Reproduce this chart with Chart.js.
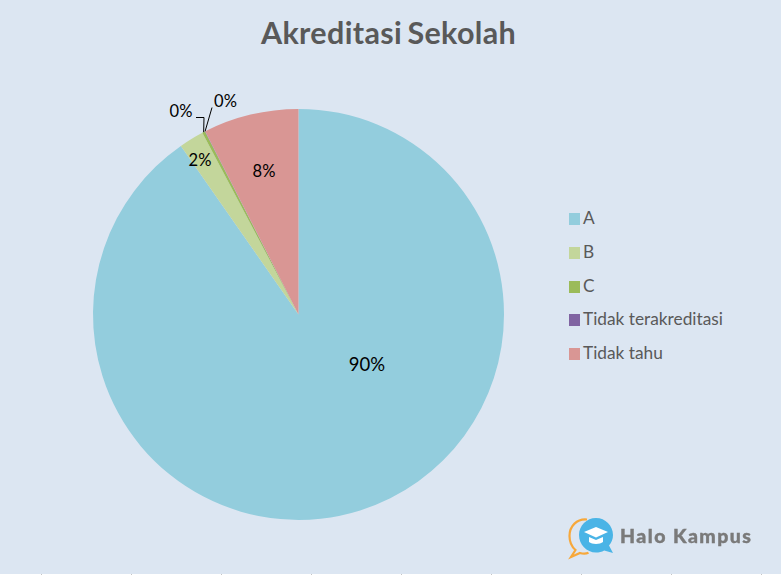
<!DOCTYPE html>
<html><head><meta charset="utf-8">
<style>
html,body{margin:0;padding:0;background:#dce6f2;overflow:hidden;width:781px;height:575px}
#wrap{position:relative;width:781px;height:575px}
canvas{display:block}
#logo{position:absolute;left:565px;top:514px;width:50px;height:48px}
#brand{position:absolute;left:620px;top:523px;font:900 19.5px Lato,sans-serif;color:#7a7a7a;letter-spacing:1.45px;-webkit-text-stroke:.4px #7a7a7a;white-space:nowrap;line-height:26px}
#edge{position:absolute;left:0;top:574px;width:781px;height:1px;background:repeating-linear-gradient(90deg,#fff 0,#fff 41px,#c4c4c4 41px,#c4c4c4 42px,#fff 42px,#fff 90px)}
</style></head><body>
<div id="wrap">
<canvas id="c" width="781" height="575"></canvas>
<svg id="logo" viewBox="0 0 50 48">
<path d="M22 5.500C12 4.500 4.500 12 4.500 22c0 6.500 2.500 11 6 14L6 43l9-4c2.500 .8 6 .9 8.500-.2" fill="none" stroke="#f7a83b" stroke-width="2.200"/>
<path d="M31 4C21.600 4 14 11.600 14 21s7.600 17.500 17 17.500c3 0 5.800-.8 8.200-2.100L48 39l-4-7.500C46.500 28.500 48 25 48 21 48 11.600 40.400 4 31 4z" fill="#4ab4e6"/>
<path d="M19 18 31 13 43 18 31 23.500z" fill="#fff"/>
<path d="M24 23v5c3 2.500 11 2.500 14 0v-5l-7 3z" fill="#fff"/>
</svg>
<div id="brand">Halo Kampus</div>
<div id="edge"></div>
</div>
<script src="https://cdn.jsdelivr.net/npm/chart.js@4"></script>
<script>
const categories = ['A','B','C','Tidak terakreditasi','Tidak tahu'];
const values = [90.3, 1.95, 0.23, 0.02, 7.5];
const percentLabels = ['90%','2%','0%','0%','8%'];
const colours = ['#93cddd','#c3d69b','#9bbb59','#8064a2','#d99694'];
const titleText = 'Akreditasi Sekolah';

// Label anchor points (px) and whether a leader line is drawn from the slice
const labelSpots = [[367,365.500,false],[200,161,false],[181,112,true],[225.500,102,true],[264,172,false]];

const cv = document.getElementById('c');
cv.getContext('2d',{alpha:false});

const paint = {
  id:'paint',
  beforeDraw(chart){
    const x = chart.ctx;
    x.save(); x.fillStyle='#dce6f2'; x.fillRect(0,0,781,575); x.restore();
    chart.titleBlock.left = 0; chart.titleBlock.right = 777;
    x.letterSpacing = '0.35px';
    x.wordSpacing = '-2.5px';
  },
  beforeDatasetsDraw(chart){ chart.ctx.letterSpacing = '0px'; chart.ctx.wordSpacing = '0px'; },
  afterDatasetsDraw(chart){
    const x = chart.ctx, arcs = chart.getDatasetMeta(0).data;
    x.save();
    x.fillStyle='#000'; x.textAlign='center'; x.textBaseline='middle';
    labelSpots.forEach((s,i)=>{
      if(s[2]){
        const a = arcs[i], mid=(a.startAngle+a.endAngle)/2;
        const px=a.x+Math.cos(mid)*a.outerRadius, py=a.y+Math.sin(mid)*a.outerRadius;
        x.beginPath(); x.strokeStyle='#000'; x.lineWidth=1;
        if(i===2){ x.moveTo(px,py); x.lineTo(204,117.500); x.lineTo(196,117.500); }
        else { x.moveTo(px,py); x.lineTo(212,107.500); }
        x.stroke();
      }
    });
    labelSpots.forEach((s,i)=>{ x.font=(i===0?'18.500px':'16.500px')+' Lato, sans-serif'; x.fillText(percentLabels[i],s[0],s[1]); });
    // legend
    x.textAlign='left';
    x.font='17.300px Lato, sans-serif';
    categories.forEach((name,i)=>{
      const y = 219 + i*33.750;
      x.fillStyle = colours[i];
      x.fillRect(569, Math.round(y-6), 11, 12);
      x.fillStyle = '#595959';
      x.fillText(name, 583, y-0.500);
    });
    x.restore();
  }
};

new Chart(cv,{
  type:'pie',
  data:{labels:categories,datasets:[{data:values,backgroundColor:colours,borderWidth:0,radius:205.500}]},
  options:{
    responsive:false,animation:false,devicePixelRatio:1,
    layout:{padding:{left:0,right:184,top:0,bottom:3}},
    plugins:{
      tooltip:{enabled:false},
      title:{display:true,text:titleText,color:'#595959',font:{family:'Lato, sans-serif',size:30.500,weight:'bold'},padding:{top:16,bottom:4.200}},
      legend:{display:false}
    }
  },
  plugins:[paint]
});
</script>
</body></html>
